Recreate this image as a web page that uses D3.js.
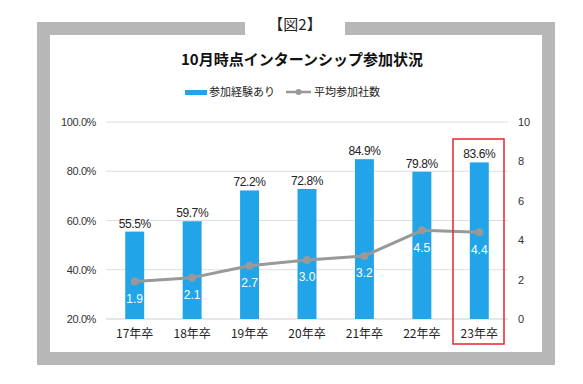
<!DOCTYPE html>
<html>
<head>
<meta charset="utf-8">
<script src="https://cdn.jsdelivr.net/npm/d3@7"></script>
<style>
  body { margin: 0; background: #fff; }
  svg { display: block; }
  text { font-family: "Liberation Sans", "Noto Sans CJK JP", sans-serif; }
  .jp { font-family: "Noto Sans CJK JP", sans-serif; }
</style>
</head>
<body>
<div id="chart"></div>
<script>
  // data
  const categories = ['17年卒', '18年卒', '19年卒', '20年卒', '21年卒', '22年卒', '23年卒'];
  const participationRate = [55.5, 59.7, 72.2, 72.8, 84.9, 79.8, 83.6];   // 参加経験あり (%)
  const avgCompanies = [1.9, 2.1, 2.7, 3.0, 3.2, 4.5, 4.4];               // 平均参加社数
  const leftTicks = [20, 40, 60, 80, 100];
  const rightTicks = [0, 2, 4, 6, 8, 10];

  const W = 583, H = 384;
  const BLUE = '#22a4e8', GRAY = '#999999';

  const svg = d3.select('#chart').append('svg')
    .attr('width', W).attr('height', H);

  // gray frame with a gap for the figure label
  const frame = svg.append('g');
  frame.append('rect').attr('x', 37).attr('y', 22).attr('width', 518).attr('height', 343).attr('fill', '#b7b7b7');
  frame.append('rect').attr('x', 50).attr('y', 35).attr('width', 492).attr('height', 317).attr('fill', '#fff');
  frame.append('rect').attr('x', 245).attr('y', 20).attr('width', 100).attr('height', 16).attr('fill', '#fff');

  svg.append('text').attr('class', 'jp')
    .attr('x', 295).attr('y', 25).attr('dy', '0.36em')
    .attr('text-anchor', 'middle')
    .attr('font-size', 15).attr('fill', '#222')
    .text('【図2】');

  // title
  svg.append('text').attr('class', 'jp')
    .attr('x', 302).attr('y', 60).attr('dy', '0.36em')
    .attr('text-anchor', 'middle')
    .attr('font-size', 15).attr('font-weight', 'bold').attr('fill', '#111')
    .text('10月時点インターンシップ参加状況');

  // legend
  const legend = svg.append('g');
  legend.append('rect').attr('x', 185).attr('y', 90).attr('width', 22).attr('height', 5).attr('fill', BLUE);
  legend.append('text').attr('class', 'jp')
    .attr('x', 209).attr('y', 92).attr('dy', '0.36em')
    .attr('font-size', 11).attr('fill', '#222').text('参加経験あり');
  legend.append('line').attr('x1', 286).attr('x2', 311).attr('y1', 92).attr('y2', 92)
    .attr('stroke', GRAY).attr('stroke-width', 2.5);
  legend.append('circle').attr('cx', 298.5).attr('cy', 92).attr('r', 3).attr('fill', GRAY);
  legend.append('text').attr('class', 'jp')
    .attr('x', 314).attr('y', 92).attr('dy', '0.36em')
    .attr('font-size', 11).attr('fill', '#222').text('平均参加社数');

  // scales
  const x = d3.scaleBand().domain(categories).range([106, 508]).paddingInner(0.67).paddingOuter(0.335);
  const yL = d3.scaleLinear().domain([20, 100]).range([319, 122]);
  const yR = d3.scaleLinear().domain([0, 10]).range([319, 122]);

  // gridlines
  svg.append('g').selectAll('line').data(leftTicks).join('line')
    .attr('x1', 106).attr('x2', 508)
    .attr('y1', d => yL(d)).attr('y2', d => yL(d))
    .attr('stroke', d => d === 20 ? '#cfcfcf' : '#dedede').attr('stroke-width', 1);

  // left axis
  const axL = svg.append('g').attr('transform', 'translate(99,0)')
    .call(d3.axisLeft(yL).tickValues(leftTicks).tickSize(0).tickFormat(d => d.toFixed(1) + '%'));
  axL.select('.domain').remove();
  axL.selectAll('text').attr('font-family', '"Liberation Sans", sans-serif')
    .attr('font-size', 11).attr('fill', '#333').attr('letter-spacing', -0.4);

  // right axis
  const axR = svg.append('g').attr('transform', 'translate(518,0)')
    .call(d3.axisRight(yR).tickValues(rightTicks).tickSize(0).tickPadding(0));
  axR.select('.domain').remove();
  axR.selectAll('text').attr('font-family', '"Liberation Sans", sans-serif')
    .attr('font-size', 11).attr('fill', '#333');

  // x axis labels
  svg.append('g').selectAll('text').data(categories).join('text')
    .attr('class', 'jp')
    .attr('x', d => x(d) + x.bandwidth() / 2).attr('y', 334).attr('dy', '0.36em')
    .attr('text-anchor', 'middle').attr('font-size', 12).attr('fill', '#222')
    .text(d => d);

  // bars
  svg.append('g').selectAll('rect').data(participationRate).join('rect')
    .attr('x', (d, i) => x(categories[i]))
    .attr('width', x.bandwidth())
    .attr('y', d => yL(d))
    .attr('height', d => yL(20) - yL(d))
    .attr('fill', BLUE);

  // bar labels
  svg.append('g').selectAll('text').data(participationRate).join('text')
    .attr('x', (d, i) => x(categories[i]) + x.bandwidth() / 2)
    .attr('y', d => yL(d) - 4)
    .attr('text-anchor', 'middle').attr('font-size', 12).attr('fill', '#222')
    .attr('letter-spacing', -0.4)
    .text(d => d.toFixed(1) + '%');

  // line series
  const pts = avgCompanies.map((v, i) => [x(categories[i]) + x.bandwidth() / 2, yR(v)]);
  svg.append('path')
    .attr('d', d3.line()(pts))
    .attr('fill', 'none').attr('stroke', GRAY).attr('stroke-width', 3)
    .attr('stroke-linejoin', 'round');
  svg.append('g').selectAll('circle').data(pts).join('circle')
    .attr('cx', d => d[0]).attr('cy', d => d[1]).attr('r', 4).attr('fill', GRAY);

  // line labels (white, inside bars)
  svg.append('g').selectAll('text').data(avgCompanies).join('text')
    .attr('x', (d, i) => pts[i][0])
    .attr('y', d => yR(d) + 17).attr('dy', '0.36em')
    .attr('text-anchor', 'middle').attr('font-size', 12).attr('fill', '#fff')
    .text(d => d.toFixed(1));

  // red highlight box around latest year
  svg.append('rect')
    .attr('x', 453).attr('y', 139).attr('width', 51).attr('height', 205)
    .attr('fill', 'none').attr('stroke', '#e8262a').attr('stroke-width', 1.5);
</script>
</body>
</html>
